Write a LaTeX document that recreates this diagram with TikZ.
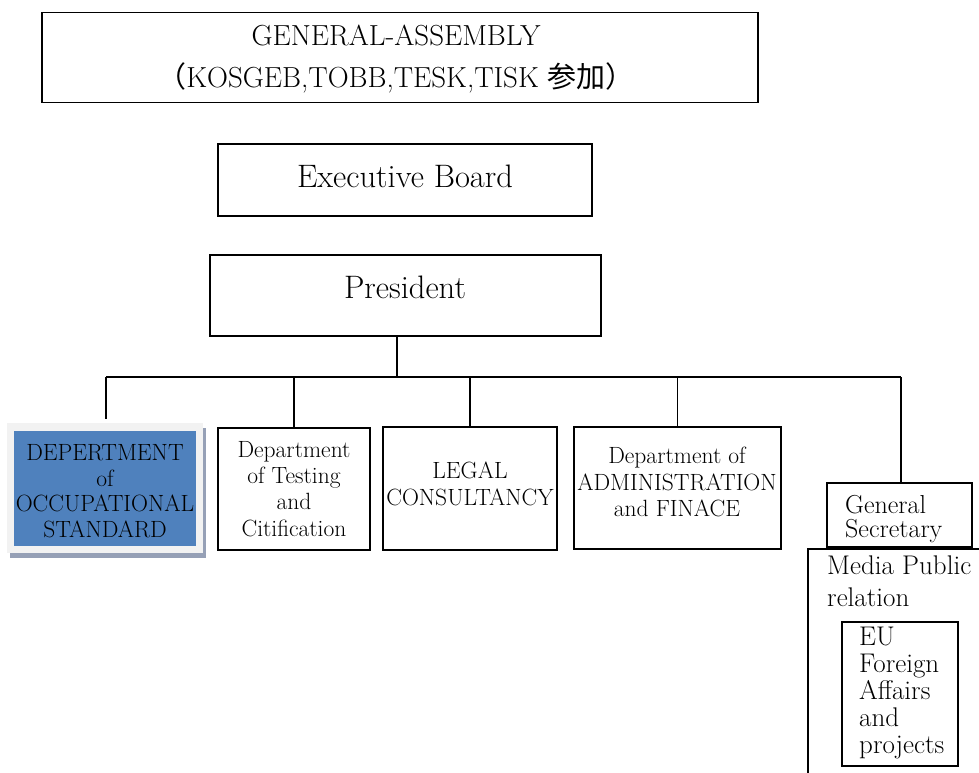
\documentclass[tikz,border=0pt]{standalone}
\usepackage{fontspec}
\newfontfamily\cjk{Noto Sans CJK JP}
\definecolor{shadowblue}{RGB}{150,160,182}
\definecolor{deptblue}{RGB}{79,129,189}
\definecolor{framegray}{RGB}{242,242,242}
\begin{document}
\begin{tikzpicture}[x=1pt,y=-1pt,
  box/.style={draw=black,line width=1.3pt},
  lbl/.style={inner sep=0pt,align=center},
  dept/.style={lbl,font=\fontsize{23.5}{26.3}\selectfont},
  wire/.style={draw=black,line width=1.1pt}]
\useasboundingbox (0,0) rectangle (979,773);

% top-level boxes
\node[box,minimum width=716pt,minimum height=90pt] (ga) at (400,57.5) {};
\node[lbl,font=\fontsize{29}{42}\selectfont] at (396,59)
  {GENERAL-ASSEMBLY\\{\cjk （}KOSGEB,TOBB,TESK,TISK {\cjk 参加）}};
\node[box,minimum width=374pt,minimum height=72pt] (eb) at (405,180) {};
\node[lbl,font=\fontsize{32.5}{36}\selectfont] at (405,176) {Executive Board};
\node[box,minimum width=391pt,minimum height=81pt] (pres) at (405.5,295.5) {};
\node[lbl,font=\fontsize{32.5}{36}\selectfont] at (405,287) {President};

% departments
\fill[shadowblue] (10,428) rectangle (206,558);
\fill[framegray] (7,423) rectangle (203,553);
\node[fill=deptblue,minimum width=182pt,minimum height=115pt] (occ) at (105,488.5) {};
\node[dept,font=\fontsize{23.5}{25.5}\selectfont] at (105,491) {DEPERTMENT\\of\\OCCUPATIONAL\\STANDARD};
\node[box,minimum width=152pt,minimum height=122pt] (test) at (294,489) {};
\node[dept] at (294,489) {Department\\of Testing\\and\\Citification};
\node[box,minimum width=174pt,minimum height=123pt] (legal) at (470,488.5) {};
\node[dept] at (470,484) {LEGAL\\CONSULTANCY};
\node[box,minimum width=207pt,minimum height=122pt] (admin) at (677.5,488) {};
\node[dept] at (677,482) {Department of\\ADMINISTRATION\\and FINACE};
\node[box,minimum width=145pt,minimum height=64pt] (gs) at (899.5,515) {};
\node[lbl,align=left,anchor=north west,font=\fontsize{26}{24}\selectfont] at (845,495) {General\\Secretary};

% media / EU branch
\coordinate (mtr) at (979,549);
\coordinate (mtl) at (808,549);
\coordinate (mbl) at (808,773);
\draw[wire] (mtr) -- (mtl) -- (mbl);
\node[lbl,align=left,anchor=north west,font=\fontsize{27}{32}\selectfont] at (827,556) {Media Public\\relation};
\node[box,minimum width=116pt,minimum height=144pt] (eu) at (900,694) {};
\node[lbl,align=left,anchor=north west,font=\fontsize{27}{27}\selectfont] at (859,627) {EU\\Foreign\\Affairs\\and\\projects};

% connectors
\coordinate (bus) at (397,377);
\coordinate (busl) at (106,377);
\coordinate (busr) at (901,377);
\coordinate (occtop) at (106,419);
\draw[wire] (pres.south -| bus) -- (bus);
\draw[wire] (busl) -- (busr);
\draw[wire] (busl) -- (occtop);
\draw[wire] (test.north |- bus) -- (test.north);
\draw[wire] (legal.north |- bus) -- (legal.north);
\draw[wire] (admin.north |- bus) -- (admin.north);
\draw[wire] (busr) -- (gs.north -| busr);
\end{tikzpicture}
\end{document}
